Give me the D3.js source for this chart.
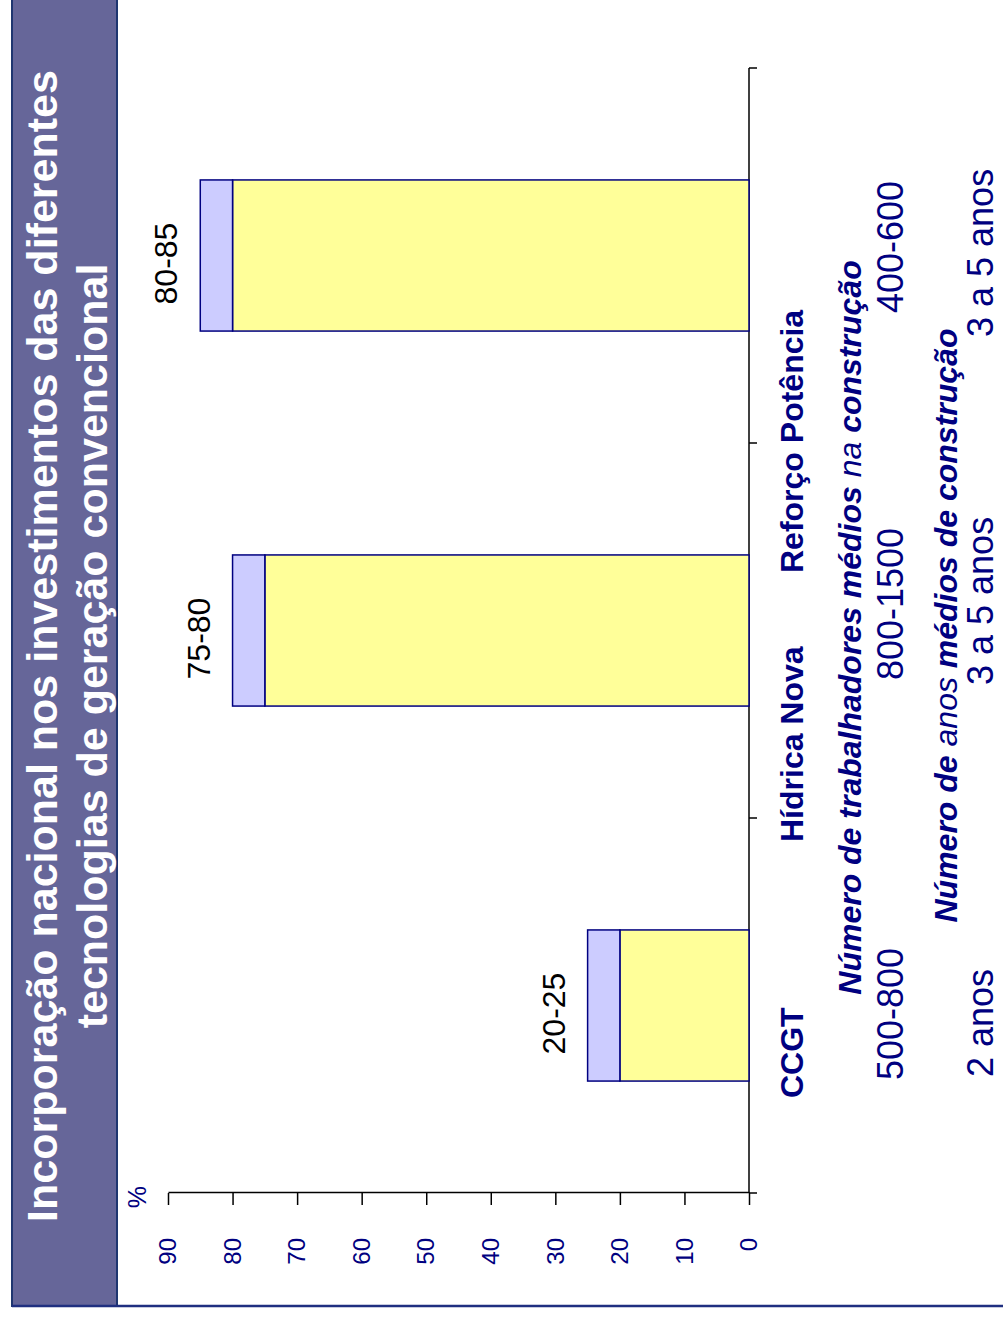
<!DOCTYPE html>
<html>
<head>
<meta charset="utf-8">
<script src="https://cdn.jsdelivr.net/npm/d3@7"></script>
<style>
  html, body { margin: 0; padding: 0; background: #fff; }
  svg { display: block; font-family: "Liberation Sans", Arial, sans-serif; }
</style>
</head>
<body>
<div class="display"></div>
<script>
const PAGE_W = 1003;
const PAGE_H = 1317;

// data
const CATEGORIES = ['CCGT', 'Hídrica Nova', 'Reforço Potência'];
const LOW = [20, 75, 80];
const HIGH = [25, 80, 85];
const RANGE_LABELS = ['20-25', '75-80', '80-85'];
const WORKERS = ['500-800', '800-1500', '400-600'];
const YEARS = ['2 anos', '3 a 5 anos', '3 a 5 anos'];
const TICKS = [0, 10, 20, 30, 40, 50, 60, 70, 80, 90];

const TITLE_1 = 'Incorporação nacional nos investimentos das diferentes';
const TITLE_2 = 'tecnologias de geração convencional';
const NAVY = '#000080';

// chart is drawn in an unrotated frame (1317 wide x 1003 tall) and turned -90deg
const svg = d3.select('.display')
  .append('svg')
  .attr('width', PAGE_W)
  .attr('height', PAGE_H);

const g = svg.append('g')
  .attr('transform', `translate(0, ${PAGE_H}) rotate(-90)`);

// title band
g.append('rect')
  .attr('x', 11)
  .attr('y', 12)
  .attr('width', 1330)
  .attr('height', 105)
  .attr('fill', '#666699')
  .attr('stroke', '#1f3670')
  .attr('stroke-width', 2);

g.append('line')
  .attr('x1', 11).attr('x2', 11)
  .attr('y1', 12).attr('y2', PAGE_W)
  .attr('stroke', '#1f2f80')
  .attr('stroke-width', 2.5);

const titleCenter = 671;
g.append('text')
  .attr('x', titleCenter).attr('y', 57)
  .attr('text-anchor', 'middle')
  .attr('fill', '#fff')
  .style('font-size', '43px')
  .style('font-weight', 'bold')
  .text(TITLE_1);
g.append('text')
  .attr('x', titleCenter).attr('y', 107)
  .attr('text-anchor', 'middle')
  .attr('fill', '#fff')
  .style('font-size', '43px')
  .style('font-weight', 'bold')
  .text(TITLE_2);

// scales
const x = d3.scaleBand()
  .domain(CATEGORIES)
  .range([124, 1249])
  .paddingInner(0.597)
  .paddingOuter(0.2985);

const y = d3.scaleLinear()
  .domain([0, 90])
  .range([749, 168]);

const gap = (x.step() - x.bandwidth()) / 2;
const bandStart = c => x(c) - gap;

// value axis
const yAxis = g.append('g')
  .attr('transform', 'translate(124, 0)')
  .call(d3.axisLeft(y).tickValues(TICKS).tickSize(12).tickSizeOuter(0).tickPadding(33));
yAxis.select('.domain').attr('stroke', '#000').attr('stroke-width', 1.5);
yAxis.selectAll('.tick line').attr('stroke', '#000').attr('stroke-width', 1.5);
yAxis.selectAll('.tick text')
  .attr('fill', NAVY)
  .style('font-size', '24px')
  .style('font-family', '"Liberation Sans", Arial, sans-serif');

g.append('text')
  .attr('x', 120).attr('y', 146)
  .attr('text-anchor', 'middle')
  .attr('fill', NAVY)
  .style('font-size', '25px')
  .text('%');

// category axis
g.append('line')
  .attr('x1', x.range()[0]).attr('x2', x.range()[1])
  .attr('y1', y(0)).attr('y2', y(0))
  .attr('stroke', '#000').attr('stroke-width', 1.5);

const boundaries = CATEGORIES.map(bandStart).concat([x.range()[1]]);
g.selectAll('.cat-tick')
  .data(boundaries)
  .enter()
  .append('line')
  .attr('class', 'cat-tick')
  .attr('x1', d => d).attr('x2', d => d)
  .attr('y1', y(0)).attr('y2', y(0) + 8)
  .attr('stroke', '#000').attr('stroke-width', 1.5);

// bars
const rows = CATEGORIES.map((c, i) => ({ cat: c, low: LOW[i], high: HIGH[i], label: RANGE_LABELS[i] }));

g.selectAll('.bar-low')
  .data(rows)
  .enter()
  .append('rect')
  .attr('class', 'bar-low')
  .attr('x', d => x(d.cat))
  .attr('width', x.bandwidth())
  .attr('y', d => y(d.low))
  .attr('height', d => y(0) - y(d.low))
  .attr('fill', '#FFFF99')
  .attr('stroke', NAVY)
  .attr('stroke-width', 1.5);

g.selectAll('.bar-high')
  .data(rows)
  .enter()
  .append('rect')
  .attr('class', 'bar-high')
  .attr('x', d => x(d.cat))
  .attr('width', x.bandwidth())
  .attr('y', d => y(d.high))
  .attr('height', d => y(d.low) - y(d.high))
  .attr('fill', '#CCCCFF')
  .attr('stroke', NAVY)
  .attr('stroke-width', 1.5);

g.selectAll('.range-label')
  .data(rows)
  .enter()
  .append('text')
  .attr('class', 'range-label')
  .attr('x', d => x(d.cat) + x.bandwidth() / 2 - 8)
  .attr('y', d => y(d.high) - 23)
  .attr('text-anchor', 'middle')
  .attr('fill', '#000')
  .style('font-size', '32px')
  .text(d => d.label);

// text rows under the category axis
const catShift = [95, -24, -130];
const workShift = [113, 138, 130];
const yearShift = [116, 133, 106];

g.selectAll('.cat-label')
  .data(CATEGORIES)
  .enter()
  .append('text')
  .attr('class', 'cat-label')
  .attr('x', (d, i) => bandStart(d) + catShift[i])
  .attr('y', 803)
  .attr('fill', NAVY)
  .style('font-size', '32px')
  .style('font-weight', 'bold')
  .text(d => d);

const plotMid = (x.range()[0] + x.range()[1]) / 2;

const sub1 = g.append('text')
  .attr('x', plotMid + 3).attr('y', 861)
  .attr('text-anchor', 'middle')
  .attr('fill', NAVY)
  .style('font-size', '32px')
  .style('font-weight', 'bold')
  .style('font-style', 'italic');
sub1.append('tspan').text('Número de trabalhadores médios ');
sub1.append('tspan').style('font-weight', 'normal').text('na');
sub1.append('tspan').text(' construção');

g.selectAll('.workers')
  .data(WORKERS)
  .enter()
  .append('text')
  .attr('class', 'workers')
  .attr('x', (d, i) => bandStart(CATEGORIES[i]) + workShift[i])
  .attr('y', 903)
  .attr('fill', NAVY)
  .style('font-size', '36px')
  .text(d => d);

const sub2 = g.append('text')
  .attr('x', plotMid + 5).attr('y', 957)
  .attr('text-anchor', 'middle')
  .attr('fill', NAVY)
  .style('font-size', '32px')
  .style('font-weight', 'bold')
  .style('font-style', 'italic');
sub2.append('tspan').text('Número de ');
sub2.append('tspan').style('font-weight', 'normal').text('anos');
sub2.append('tspan').text(' médios de construção');

g.selectAll('.years')
  .data(YEARS)
  .enter()
  .append('text')
  .attr('class', 'years')
  .attr('x', (d, i) => bandStart(CATEGORIES[i]) + yearShift[i])
  .attr('y', 993)
  .attr('fill', NAVY)
  .style('font-size', '36px')
  .text(d => d);
</script>
</body>
</html>
